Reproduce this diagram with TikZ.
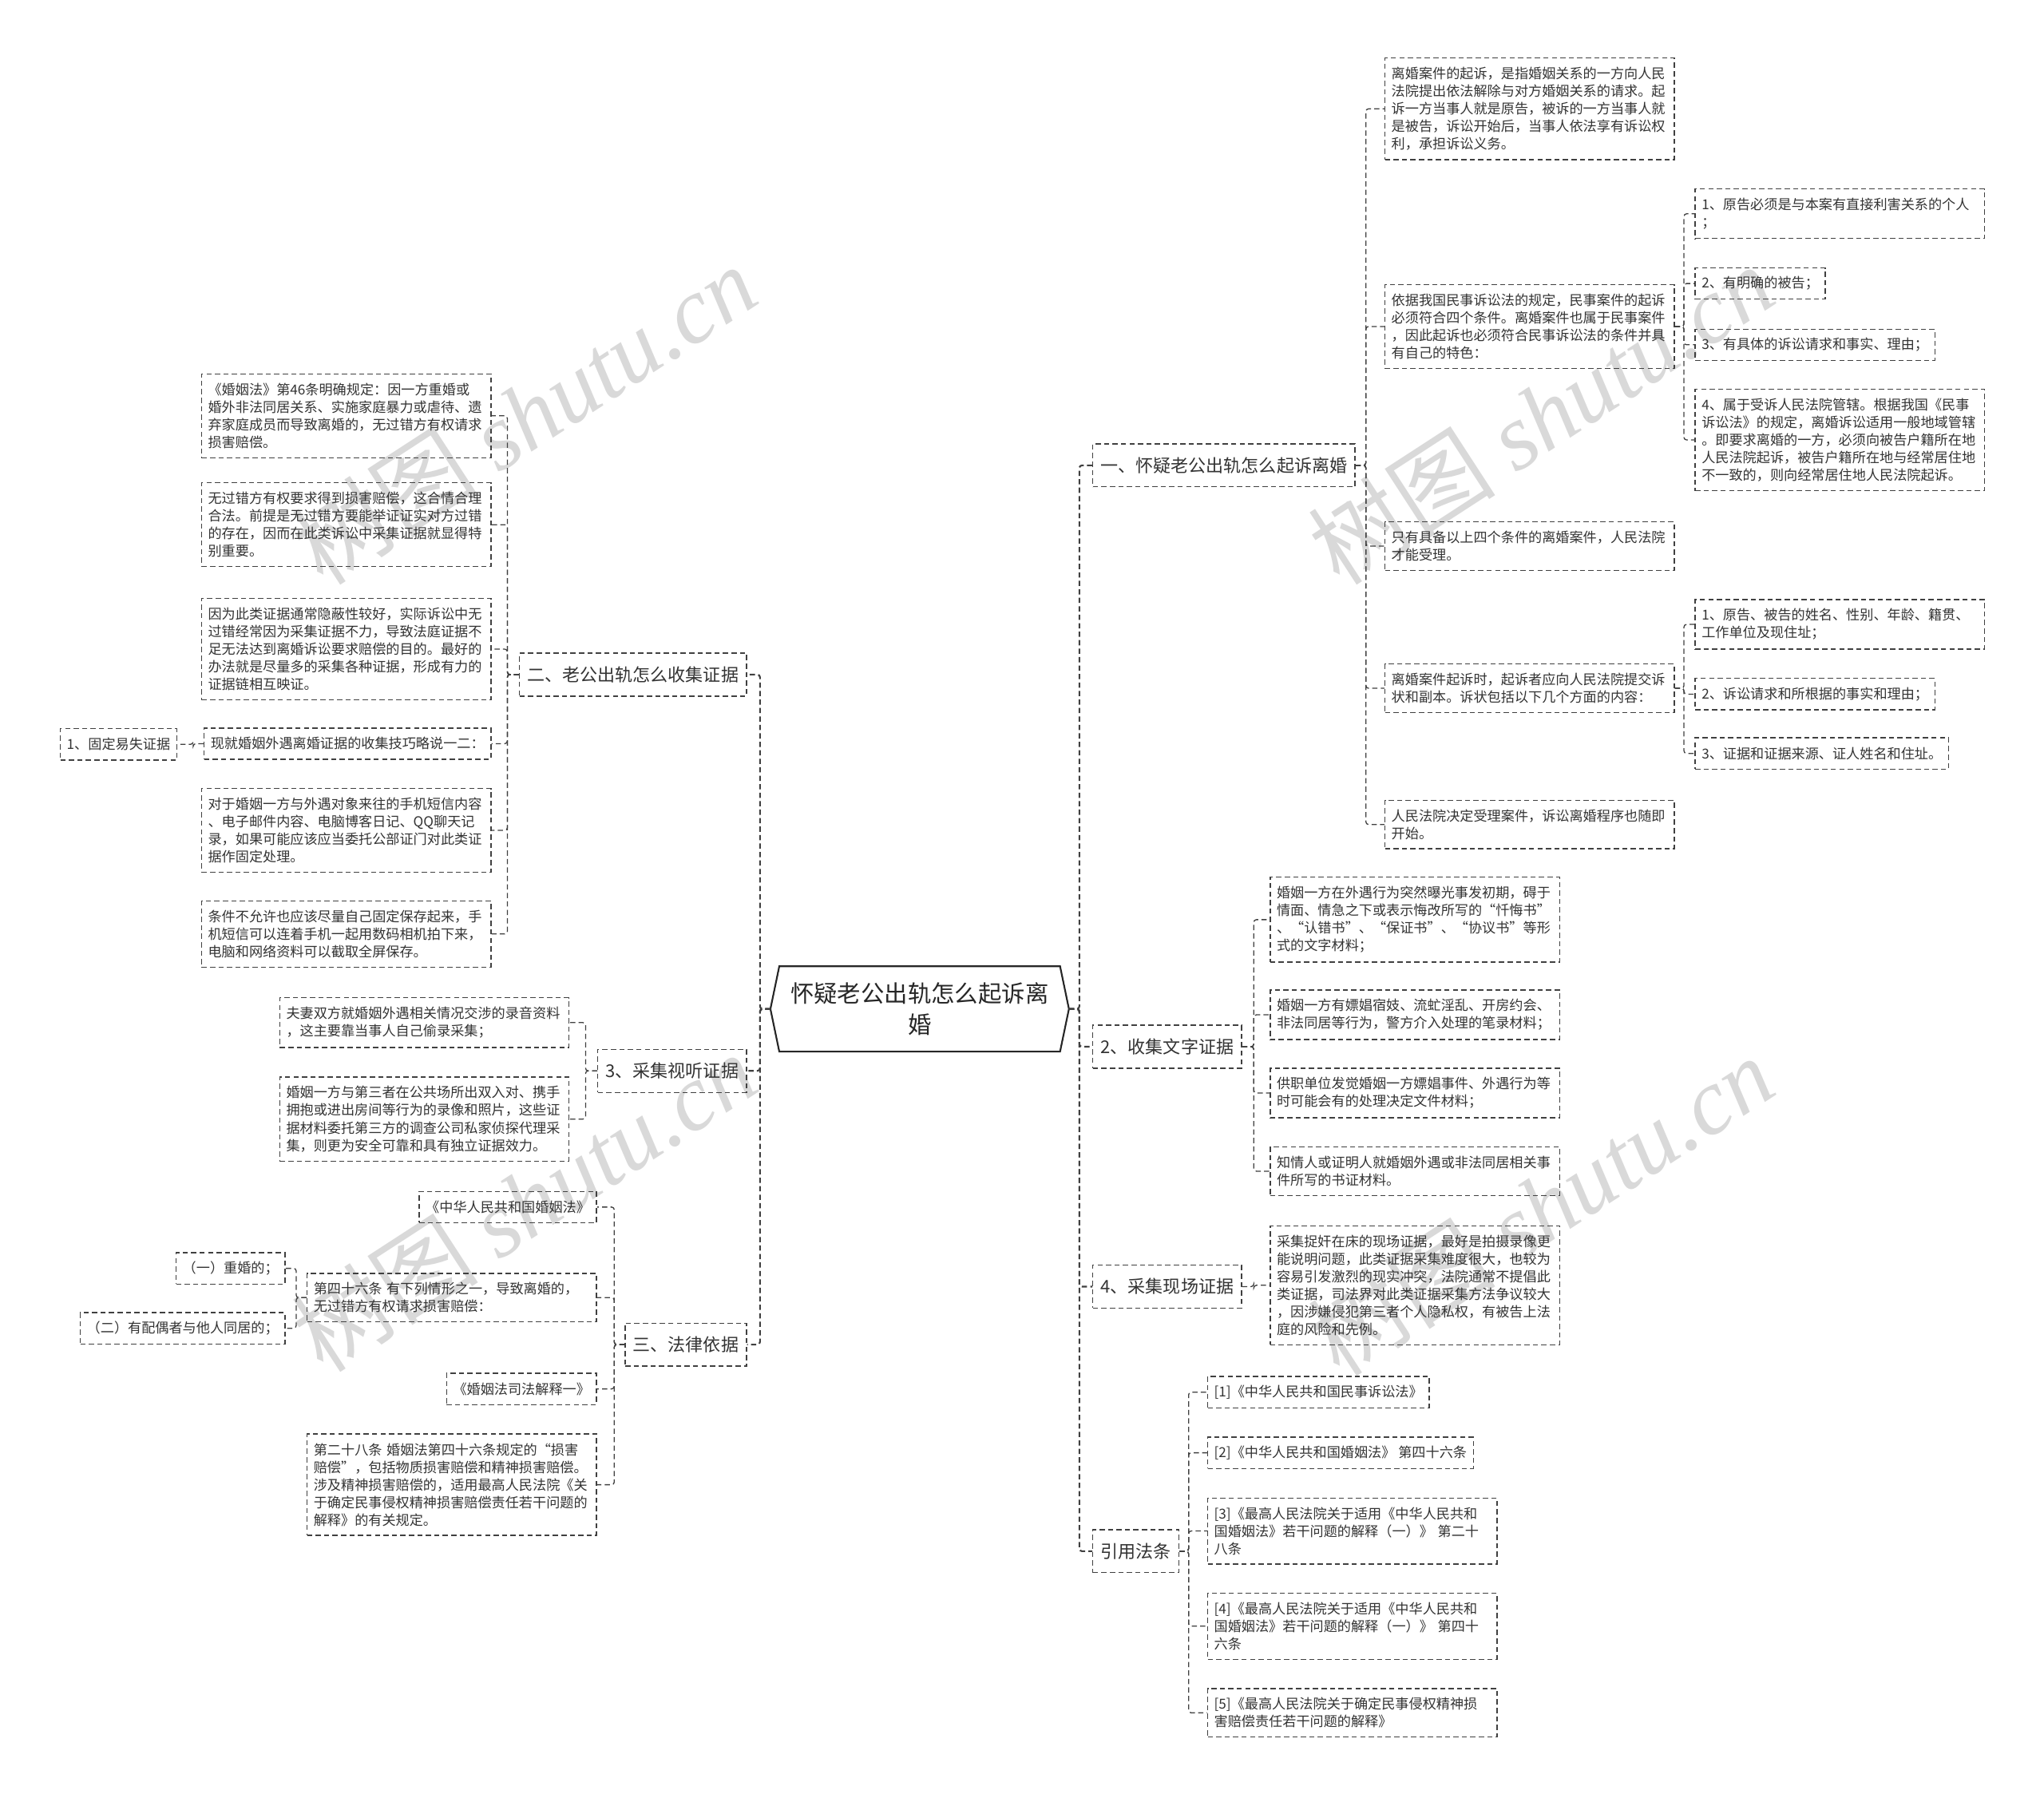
\documentclass[tikz,border=0pt]{standalone}
\usepackage{fontspec}
\setmainfont{Noto Sans CJK SC}
\newfontfamily\wmcjk{Noto Sans CJK SC}
\newfontfamily\wmlat{Liberation Serif}
\usetikzlibrary{calc}

\tikzset{
  dbox/.style={draw=black!75, dash pattern=on 4pt off 2.5pt, line width=0.8pt,
    text=black!80, font=\fontsize{10.5}{13.5}\selectfont, inner xsep=5pt, inner ysep=7pt},
  leaf/.style={dbox, text width=212pt, align=left},
  tagbox/.style={dbox, minimum height=24pt, inner ysep=3pt},
  topic/.style={dbox, font=\fontsize{13.5}{17}\selectfont, minimum height=33pt, inner xsep=6pt, inner ysep=3pt},
  link/.style={draw=black!75, dash pattern=on 4pt off 2.5pt, line width=0.8pt, rounded corners=2pt},
  wmark/.style={text=black!15, rotate=33, font=\fontsize{72}{72}\selectfont},
}

\begin{document}
\begin{tikzpicture}[x=1pt, y=-1pt]
    % --- 1. Canvas ---
    \useasboundingbox (0,0) rectangle (1568,1379);
    \fill[white] (0,0) rectangle (1568,1379);

    % --- 2. Watermarks ---
    \node[wmark] (wmTL) at (402,318) {{\wmcjk 树图} {\wmlat\itshape shutu.cn}};
    \node[wmark] (wmTR) at (1182,318) {{\wmcjk 树图} {\wmlat\itshape shutu.cn}};
    \node[wmark] (wmBL) at (402,922) {{\wmcjk 树图} {\wmlat\itshape shutu.cn}};
    \node[wmark] (wmBR) at (1182,925) {{\wmcjk 树图} {\wmlat\itshape shutu.cn}};

    % --- 3. Root ---
    \node[minimum width=215pt, minimum height=65pt, align=center, text=black!85,
          font=\fontsize{18}{24}\selectfont] (root) at (705.5,774) {怀疑老公出轨怎么起诉离\\婚};
    \coordinate (rootE) at (820,774);
    \coordinate (rootW) at (591,774);
    \draw[line width=1.3pt, black!85] (root.north west) -- (root.north east) -- (rootE)
        -- (root.south east) -- (root.south west) -- (rootW) -- cycle;

    % --- 4. Right branches ---
    \node[topic, anchor=west] (qisu) at (838,357) {一、怀疑老公出轨怎么起诉离婚};
    \node[topic, anchor=west] (wenzi) at (838,803) {2、收集文字证据};
    \node[topic, anchor=west] (xianchang) at (838,987) {4、采集现场证据};
    \node[topic, anchor=west] (fatiao) at (838,1190) {引用法条};

    % how to file
    \node[leaf, anchor=west] (qsDef) at (1062,83.5) {离婚案件的起诉，是指婚姻关系的一方向人民\\法院提出依法解除与对方婚姻关系的请求。起\\诉一方当事人就是原告，被诉的一方当事人就\\是被告，诉讼开始后，当事人依法享有诉讼权\\利，承担诉讼义务。};
    \node[leaf, anchor=west] (qsCond) at (1062,250.5) {依据我国民事诉讼法的规定，民事案件的起诉\\必须符合四个条件。离婚案件也属于民事案件\\，因此起诉也必须符合民事诉讼法的条件并具\\有自己的特色：};
    \node[leaf, anchor=west] (qsOnly) at (1062,419) {只有具备以上四个条件的离婚案件，人民法院\\才能受理。};
    \node[leaf, anchor=west] (qsForm) at (1062,528) {离婚案件起诉时，起诉者应向人民法院提交诉\\状和副本。诉状包括以下几个方面的内容：};
    \node[leaf, anchor=west] (qsStart) at (1062,632.5) {人民法院决定受理案件，诉讼离婚程序也随即\\开始。};

    \node[leaf, anchor=west] (cond1) at (1300,164) {1、原告必须是与本案有直接利害关系的个人\\；};
    \node[tagbox, anchor=west] (cond2) at (1300,217.5) {2、有明确的被告；};
    \node[tagbox, anchor=west] (cond3) at (1300,264.5) {3、有具体的诉讼请求和事实、理由；};
    \node[leaf, anchor=west] (cond4) at (1300,337.5) {4、属于受诉人民法院管辖。根据我国《民事\\诉讼法》的规定，离婚诉讼适用一般地域管辖\\。即要求离婚的一方，必须向被告户籍所在地\\人民法院起诉，被告户籍所在地与经常居住地\\不一致的，则向经常居住地人民法院起诉。};

    \node[leaf, anchor=west] (form1) at (1300,479) {1、原告、被告的姓名、性别、年龄、籍贯、\\工作单位及现住址；};
    \node[tagbox, anchor=west] (form2) at (1300,532.5) {2、诉讼请求和所根据的事实和理由；};
    \node[tagbox, anchor=west] (form3) at (1300,578) {3、证据和证据来源、证人姓名和住址。};

    % written evidence
    \node[leaf, anchor=west] (wz1) at (974,705.5) {婚姻一方在外遇行为突然曝光事发初期，碍于\\情面、情急之下或表示悔改所写的“忏悔书”\\、“认错书”、“保证书”、“协议书”等形\\式的文字材料；};
    \node[leaf, anchor=west] (wz2) at (974,778.5) {婚姻一方有嫖娼宿妓、流虻淫乱、开房约会、\\非法同居等行为，警方介入处理的笔录材料；};
    \node[leaf, anchor=west] (wz3) at (974,838.5) {供职单位发觉婚姻一方嫖娼事件、外遇行为等\\时可能会有的处理决定文件材料；};
    \node[leaf, anchor=west] (wz4) at (974,898.5) {知情人或证明人就婚姻外遇或非法同居相关事\\件所写的书证材料。};

    % scene evidence
    \node[leaf, anchor=west] (xc1) at (974,986) {采集捉奸在床的现场证据，最好是拍摄录像更\\能说明问题，此类证据采集难度很大，也较为\\容易引发激烈的现实冲突，法院通常不提倡此\\类证据，司法界对此类证据采集方法争议较大\\，因涉嫌侵犯第三者个人隐私权，有被告上法\\庭的风险和先例。};

    % cited laws
    \node[tagbox, anchor=west] (ft1) at (926,1068) {[1]《中华人民共和国民事诉讼法》};
    \node[tagbox, anchor=west] (ft2) at (926,1114.5) {[2]《中华人民共和国婚姻法》 第四十六条};
    \node[leaf, anchor=west] (ft3) at (926,1174.5) {[3]《最高人民法院关于适用《中华人民共和\\国婚姻法》若干问题的解释（一）》 第二十\\八条};
    \node[leaf, anchor=west] (ft4) at (926,1247.5) {[4]《最高人民法院关于适用《中华人民共和\\国婚姻法》若干问题的解释（一）》 第四十\\六条};
    \node[leaf, anchor=west] (ft5) at (926,1314) {[5]《最高人民法院关于确定民事侵权精神损\\害赔偿责任若干问题的解释》};

    % --- 5. Left branches ---
    \node[topic, anchor=east] (shouji) at (573,517.5) {二、老公出轨怎么收集证据};
    \node[topic, anchor=east] (shiting) at (573,821.5) {3、采集视听证据};
    \node[topic, anchor=east] (yiju) at (573,1031.5) {三、法律依据};

    % collecting evidence
    \node[leaf, anchor=east] (sj1) at (377,319) {《婚姻法》第46条明确规定：因一方重婚或\\婚外非法同居关系、实施家庭暴力或虐待、遗\\弃家庭成员而导致离婚的，无过错方有权请求\\损害赔偿。};
    \node[leaf, anchor=east] (sj2) at (377,402.5) {无过错方有权要求得到损害赔偿，这合情合理\\合法。前提是无过错方要能举证证实对方过错\\的存在，因而在此类诉讼中采集证据就显得特\\别重要。};
    \node[leaf, anchor=east] (sj3) at (377,498) {因为此类证据通常隐蔽性较好，实际诉讼中无\\过错经常因为采集证据不力，导致法庭证据不\\足无法达到离婚诉讼要求赔偿的目的。最好的\\办法就是尽量多的采集各种证据，形成有力的\\证据链相互映证。};
    \node[tagbox, anchor=east] (sj4) at (377,570.5) {现就婚姻外遇离婚证据的收集技巧略说一二：};
    \node[leaf, anchor=east] (sj5) at (377,637) {对于婚姻一方与外遇对象来往的手机短信内容\\、电子邮件内容、电脑博客日记、QQ聊天记\\录，如果可能应该应当委托公部证门对此类证\\据作固定处理。};
    \node[leaf, anchor=east] (sj6) at (377,716.5) {条件不允许也应该尽量自己固定保存起来，手\\机短信可以连着手机一起用数码相机拍下来，\\电脑和网络资料可以截取全屏保存。};
    \node[tagbox, anchor=east] (guding) at (136,571) {1、固定易失证据};

    % audio-visual evidence
    \node[leaf, anchor=east] (st1) at (437,784.5) {夫妻双方就婚姻外遇相关情况交涉的录音资料\\，这主要靠当事人自己偷录采集；};
    \node[leaf, anchor=east] (st2) at (437,858.5) {婚姻一方与第三者在公共场所出双入对、携手\\拥抱或进出房间等行为的录像和照片，这些证\\据材料委托第三方的调查公司私家侦探代理采\\集，则更为安全可靠和具有独立证据效力。};

    % legal basis
    \node[tagbox, anchor=east] (yj1) at (458,926) {《中华人民共和国婚姻法》};
    \node[leaf, anchor=east] (yj2) at (458,995.5) {第四十六条 有下列情形之一，导致离婚的，\\无过错方有权请求损害赔偿：};
    \node[tagbox, anchor=east] (yj3) at (458,1065.5) {《婚姻法司法解释一》};
    \node[leaf, anchor=east] (yj4) at (458,1139) {第二十八条 婚姻法第四十六条规定的“损害\\赔偿”，包括物质损害赔偿和精神损害赔偿。\\涉及精神损害赔偿的，适用最高人民法院《关\\于确定民事侵权精神损害赔偿责任若干问题的\\解释》的有关规定。};
    \node[tagbox, anchor=east] (qing1) at (219,973) {（一）重婚的；};
    \node[tagbox, anchor=east] (qing2) at (219,1019) {（二）有配偶者与他人同居的；};

    % --- 6. Connectors ---
    \foreach \c in {qisu,wenzi,xianchang,fatiao}
        \draw[link, line width=1.3pt] (rootE) -- ++(8,0) |- (\c.west);
    \foreach \c in {shouji,shiting,yiju}
        \draw[link, line width=1.3pt] (rootW) -- ++(-8,0) |- (\c.east);

    \foreach \c in {qsDef,qsCond,qsOnly,qsForm,qsStart}
        \draw[link] (qisu.east) -- ++(8,0) |- (\c.west);
    \foreach \i in {1,...,4}
        \draw[link] (qsCond.east) -- ++(7,0) |- (cond\i.west);
    \foreach \i in {1,...,3}
        \draw[link] (qsForm.east) -- ++(7,0) |- (form\i.west);
    \foreach \i in {1,...,4}
        \draw[link] (wenzi.east) -- ++(9,0) |- (wz\i.west);
    \draw[link] (xianchang.east) -- ++(9,0) |- (xc1.west);
    \foreach \i in {1,...,5}
        \draw[link] (fatiao.east) -- ++(7,0) |- (ft\i.west);

    \foreach \i in {1,...,6}
        \draw[link] (shouji.west) -- ++(-9,0) |- (sj\i.east);
    \draw[link] (sj4.west) -- ++(-8,0) |- (guding.east);
    \foreach \i in {1,2}
        \draw[link] (shiting.west) -- ++(-9,0) |- (st\i.east);
    \foreach \i in {1,...,4}
        \draw[link] (yiju.west) -- ++(-8,0) |- (yj\i.east);
    \foreach \i in {1,2}
        \draw[link] (yj2.west) -- ++(-8,0) |- (qing\i.east);
\end{tikzpicture}
\end{document}
